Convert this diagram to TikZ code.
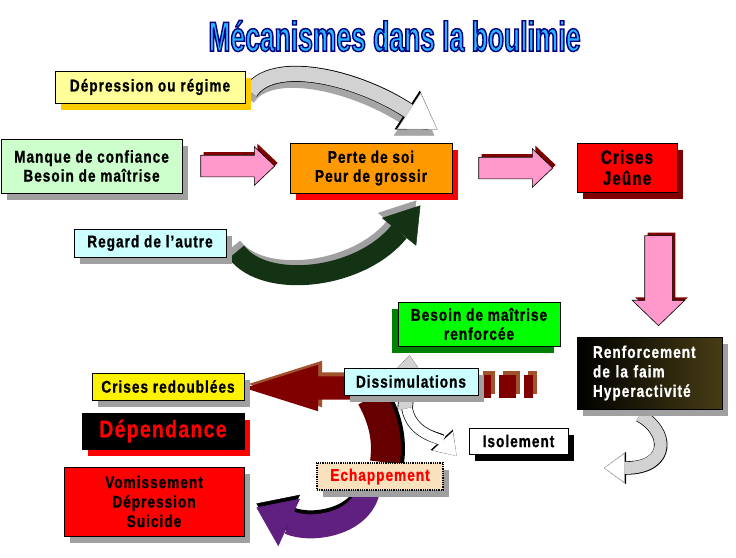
\documentclass[tikz,border=0pt]{standalone}
\usepackage{fontspec}
\setmainfont{Liberation Sans}
\newfontfamily\labelfont{Liberation Sans}[FakeStretch=0.8,LetterSpace=6,FakeBold=1]
\newfontfamily\titlefont{Liberation Sans}[FakeStretch=0.63]
\usetikzlibrary{positioning,calc,shadows,shapes.arrows,arrows.meta}
\pgfdeclarelayer{background}
\pgfsetlayers{background,main}

\definecolor{paleyellow}{HTML}{FFFF99}
\definecolor{goldshadow}{HTML}{FFCC00}
\definecolor{palegreen}{HTML}{CCFFCC}
\definecolor{boxorange}{HTML}{FF9900}
\definecolor{palecyan}{HTML}{CCFFFF}
\definecolor{shadowgray}{HTML}{A0A0A0}
\definecolor{darkred}{HTML}{800000}
\definecolor{pinkfill}{HTML}{FF99CC}
\definecolor{brownish}{HTML}{A0522D}
\definecolor{shaftred}{HTML}{660000}
\definecolor{purplearrow}{HTML}{602080}
\definecolor{darkgreenarrow}{HTML}{143214}
\definecolor{peach}{HTML}{FAE1BE}
\definecolor{olivedark}{HTML}{463C14}
\definecolor{titleblue}{HTML}{28B4FF}
\definecolor{navyblue}{HTML}{000080}
\definecolor{boxgreen}{HTML}{00FF00}
\definecolor{shadowgreen}{HTML}{008000}

\newcommand{\outlinedtitle}[1]{\special{pdf:literal q 2 Tr 1.4 w 0 0 0.5 RG}#1\special{pdf:literal Q}}

\tikzset{
  box/.style={draw=black, line width=0.8pt, inner sep=0pt, align=center,
    font=\labelfont\bfseries\fontsize{17}{19}\selectfont},
  shadowed/.style={general shadow={fill=#1, shadow xshift=6pt, shadow yshift=-7pt}},
  titletext/.style={inner sep=0pt, font=\titlefont\bfseries\fontsize{42}{42}\selectfont},
  pinkarrow/.style={single arrow, draw=black, line width=0.6pt, fill=pinkfill, inner sep=10.5pt,
    single arrow head extend=8.5pt, single arrow tip angle=87, minimum height=74pt,
    general shadow={fill=darkred, shadow xshift=3pt, shadow yshift=3pt}},
  band/.style={line width=#1, line cap=butt},
}

\begin{document}
\begin{tikzpicture}[x=1pt,y=1pt]
    \useasboundingbox (0,0) rectangle (736,-557);

    \node[titletext, text=titleblue] (title) at (394.5,-36) {\outlinedtitle{Mécanismes dans la boulimie}};

    \node[box, fill=paleyellow, shadowed=goldshadow, minimum width=190pt, minimum height=32pt] (depression) at (150,-87) {Dépression ou régime};
    \node[box, fill=palegreen, shadowed=shadowgray, minimum width=181pt, minimum height=54pt] (manque) at (91.5,-166) {Manque de confiance\\Besoin de maîtrise};
    \node[pinkarrow, right=18pt of manque] (toPerte) {};
    \node[box, fill=boxorange, shadowed=red, minimum width=162pt, minimum height=50pt] (perte) at (371,-168) {Perte de soi\\Peur de grossir};
    \node[pinkarrow, right=26pt of perte] (toCrises) {};
    \node[box, fill=red, shadowed=darkred, minimum width=100pt, minimum height=49pt,
      font=\labelfont\bfseries\fontsize{19}{21}\selectfont] (crises) at (627,-167.5) {Crises\\Jeûne};
    \node[box, fill=palecyan, shadowed=shadowgray, minimum width=152pt, minimum height=28pt] (regard) at (150,-243) {Regard de l’autre};
    \node[pinkarrow, shape border rotate=270, inner sep=13.5pt, single arrow head extend=12.5pt,
      single arrow tip angle=92, minimum height=90pt] (toRenf) at (658.5,-274) {};

    \node[box, fill=boxgreen, general shadow={fill=shadowgreen, shadow xshift=-6pt, shadow yshift=-7pt},
      minimum width=162pt, minimum height=44pt] (besoin) at (479,-324) {Besoin de maîtrise\\renforcée};
    \node[box, left color=black, right color=olivedark, shadowed=shadowgray, text=white, align=left,
      text width=113pt, minimum width=145pt, minimum height=72pt,
      font=\labelfont\bfseries\fontsize{17}{19.5}\selectfont] (renf) at (649.5,-373) {Renforcement\\de la faim\\Hyperactivité};
    \node[box, fill=palecyan, shadowed=shadowgray, minimum width=134pt, minimum height=27pt] (dissim) at (411,-381.5) {Dissimulations};
    \node[box, fill=white, shadowed=black, minimum width=99pt, minimum height=26pt] (isol) at (518.5,-441) {Isolement};
    \node[box, fill=peach, densely dotted, line width=1.4pt, shadowed=shadowgray, text=red,
      minimum width=126pt, minimum height=27pt] (echap) at (380,-476.5) {Echappement};
    \node[box, fill=yellow, shadowed=shadowgray, minimum width=152pt, minimum height=27pt] (redoub) at (168,-386.5) {Crises redoublées};
    \node[box, fill=black, shadowed=red, text=red, minimum width=162pt, minimum height=36pt,
      font=\labelfont\bfseries\fontsize{24}{26}\selectfont] (depend) at (163,-431) {Dépendance};
    \node[box, fill=red, shadowed=shadowgray, minimum width=180pt, minimum height=69pt,
      font=\labelfont\bfseries\fontsize{17}{19.5}\selectfont] (vomiss) at (154,-501.5) {Vomissement\\Dépression\\Suicide};

    \begin{pgfonlayer}{background}
    \fill[white] (0,0) rectangle (736,-557);

    \node[single arrow, shape border rotate=180, fill=darkred, inner sep=11.5pt, single arrow head extend=11.5pt,
      single arrow tip angle=35, minimum height=216pt,
      general shadow={fill=brownish, shadow xshift=4pt, shadow yshift=4pt}] (toRedoub) at (371,-388) {};
    \fill[brownish] (483,-371) rectangle +(12,-23);
    \fill[darkred] (479,-375) rectangle +(12,-23);
    \fill[brownish] (503,-371) rectangle +(17,-23);
    \fill[darkred] (499,-375) rectangle +(17,-23);
    \fill[brownish] (528,-371) rectangle +(9,-23);
    \fill[darkred] (524,-375) rectangle +(9,-23);

    \coordinate (dissimDown) at ($(dissim.south west)+(28,-2)$);
    \coordinate (echapUp) at ($(echap.north)+(5,0)$);
    \draw[band=30pt, black, transform canvas={xshift=4pt}] (dissimDown) .. controls (384,-420) and (388,-440) .. (echapUp);
    \draw[band=30pt, shaftred] (dissimDown) .. controls (384,-420) and (388,-440) .. (echapUp);

    \coordinate (echapOut) at ($(echap.south)+(-12,0)$);
    \coordinate (vomissIn) at ($(vomiss.east)+(12,-6)$);
    \draw[band=24pt, black, transform canvas={yshift=4pt}, -{Triangle[width=52pt,length=36pt,line width=0.5pt]}] (echapOut) .. controls (360,-525) and (310,-532) .. (vomissIn);
    \draw[band=24pt, purplearrow, -{Triangle[width=52pt,length=36pt,line width=0.5pt]}] (echapOut) .. controls (360,-525) and (310,-532) .. (vomissIn);

    \coordinate (dissimUp) at ($(dissim.south)+(-6,-15)$);
    \coordinate (besoinIn) at ($(besoin.south west)+(12,-9)$);
    \draw[band=15.4pt, black, -{Triangle[width=26pt,length=16pt,line width=0.5pt]}] (dissimUp) -- (besoinIn);
    \draw[band=14pt, gray!35, -{Triangle[width=24pt,length=15pt,line width=0.5pt]}] (dissimUp) -- (besoinIn);

    \coordinate (dissimOut) at ($(dissim.south)+(-4,-13)$);
    \coordinate (isolIn) at ($(isol.west)+(-12,-15)$);
    \draw[band=11.4pt, black, -{Triangle[width=30pt,length=22pt,line width=0.5pt]}] (dissimOut) .. controls (412,-435) and (440,-438) .. (isolIn);
    \draw[band=10pt, white, -{Triangle[width=27.5pt,length=20.5pt,line width=0.5pt]}] (dissimOut) .. controls (412,-435) and (440,-438) .. (isolIn);

    \coordinate (deprOut) at ($(depression.east)+(5,-5)$);
    \coordinate (perteIn) at ($(perte.north east)+(-15,13)$);
    \draw[band=16pt, gray!70, transform canvas={xshift=-3pt,yshift=-6pt}, -{Triangle[width=44pt,length=34pt,line width=0.5pt]}] (deprOut) .. controls (272,-58) and (355,-76) .. (perteIn);
    \draw[band=16pt, black, -{Triangle[width=46pt,length=36pt,line width=0.5pt]}] (deprOut) .. controls (272,-58) and (355,-76) .. (perteIn);
    \draw[band=14.5pt, gray!35, -{Triangle[width=43pt,length=34pt,line width=0.5pt,fill=white]}] (deprOut) .. controls (272,-58) and (355,-76) .. (perteIn);

    \coordinate (regardOut) at ($(regard.east)+(10,-9)$);
    \coordinate (perteBelow) at ($(perte.south east)+(-32,-12)$);
    \draw[band=20pt, shadowgray, transform canvas={xshift=-4pt,yshift=5pt}, -{Triangle[width=44pt,length=34pt,line width=0.5pt]}] (regardOut) .. controls (265,-290) and (360,-280) .. (perteBelow);
    \draw[band=20pt, darkgreenarrow, -{Triangle[width=44pt,length=34pt,line width=0.5pt]}] (regardOut) .. controls (265,-290) and (360,-280) .. (perteBelow);

    \coordinate (renfOut) at ($(renf.south)+(-10,-6)$);
    \coordinate (loopEnd) at (604,-468);
    \draw[band=13.4pt, black, -{Triangle[width=32pt,length=22pt,line width=0.5pt]}] (renfOut) .. controls (668,-430) and (672,-468) .. (loopEnd);
    \draw[band=12pt, gray!35, -{Triangle[width=29.5pt,length=20.5pt,line width=0.5pt,fill=white]}] (renfOut) .. controls (668,-430) and (672,-468) .. (loopEnd);
    \end{pgfonlayer}
\end{tikzpicture}
\end{document}
